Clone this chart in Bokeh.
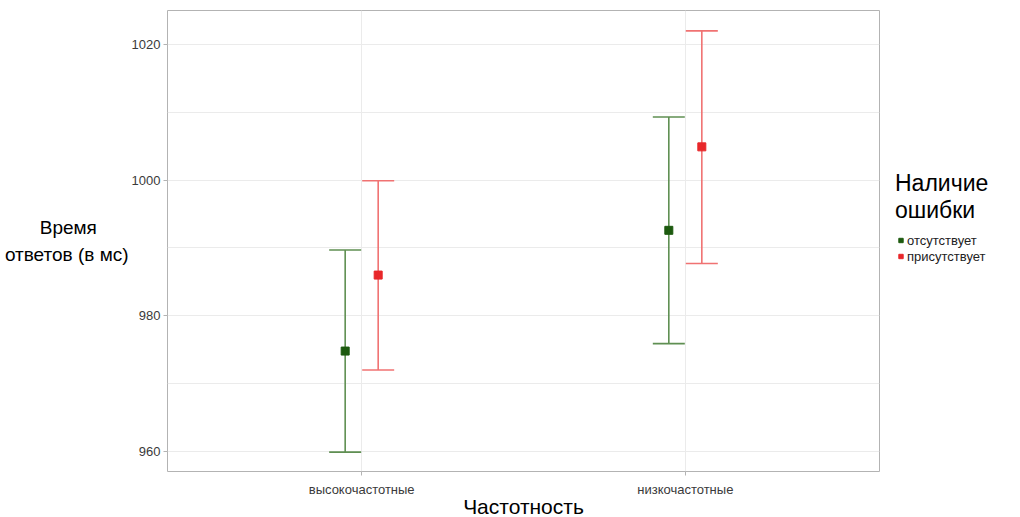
from bokeh.plotting import figure
from bokeh.models import (FactorRange, Range1d, Whisker, TeeHead, ColumnDataSource,
                          Legend, LegendItem, FixedTicker)
from bokeh.transform import dodge
from bokeh.embed import file_html
from bokeh.resources import INLINE

categories = ["высокочастотные", "низкочастотные"]
groups = ["отсутствует", "присутствует"]
mean_absent = [974.8, 992.6]
lower_absent = [959.9, 975.9]
upper_absent = [989.7, 1009.3]
mean_present = [986.0, 1004.9]
lower_present = [972.0, 987.7]
upper_present = [999.9, 1022.0]
y_ticks = [960, 980, 1000, 1020]

FONT = "Liberation Sans"

p = figure(x_range=FactorRange(*categories, range_padding=0.1, range_padding_units="absolute"),
           y_range=Range1d(957.05, 1025.0),
           frame_width=712, frame_height=461,
           min_border_left=167, min_border_top=10, min_border_right=132, min_border_bottom=10,
           output_backend="svg", toolbar_location=None)

p.outline_line_color = "#b3b3b3"
p.outline_line_width = 1

src_a = ColumnDataSource(dict(cat=categories, mean=mean_absent, lo=lower_absent, hi=upper_absent))
src_p = ColumnDataSource(dict(cat=categories, mean=mean_present, lo=lower_present, hi=upper_present))

green_bar = "#5f8f52"
green_pt = "#1d5a0f"
red_bar = "#f07272"
red_pt = "#e8272a"

off = 0.051
for src, o, bc in [(src_a, -off, green_bar), (src_p, off, red_bar)]:
    w = Whisker(source=src, base=dodge("cat", o, range=p.x_range), upper="hi", lower="lo",
                line_color=bc, line_width=1.6,
                upper_head=TeeHead(size=32, line_color=bc, line_width=1.6),
                lower_head=TeeHead(size=32, line_color=bc, line_width=1.6))
    p.add_layout(w)

r_a = p.scatter(x=dodge("cat", -off, range=p.x_range), y="mean", source=src_a,
                marker="square", size=8, color=green_pt)
r_p = p.scatter(x=dodge("cat", off, range=p.x_range), y="mean", source=src_p,
                marker="square", size=8, color=red_pt)

# axes
p.yaxis.ticker = FixedTicker(ticks=y_ticks, minor_ticks=[970, 990, 1010])
for ax in (p.xaxis, p.yaxis):
    ax.axis_line_color = None
    ax.major_tick_line_color = "#b3b3b3"
    ax.major_tick_out = 4
    ax.major_tick_in = 0
    ax.minor_tick_line_color = None
    ax.major_label_text_font = FONT
    ax.major_label_text_font_size = "13px"
    ax.major_label_text_color = "#3a3a3a"
    ax.axis_label_text_font = FONT
    ax.axis_label_text_font_style = "normal"
    ax.axis_label_text_color = "#000000"
p.yaxis.major_label_standoff = 3
p.xaxis.major_label_standoff = 6
p.xaxis.axis_label = "Частотность"
p.xaxis.axis_label_text_font_size = "21px"
p.xaxis.axis_label_standoff = -5

p.yaxis.axis_label = "Время" + "\u00a0" * 6 + "\nответов (в мс)"
p.yaxis.axis_label_orientation = "horizontal"
p.yaxis.axis_label_standoff = 0
p.yaxis.axis_label_text_font_size = "19px"
p.yaxis.axis_label_text_line_height = 1.3

p.xgrid.grid_line_color = "#ebebeb"
p.ygrid.grid_line_color = "#ebebeb"
p.ygrid.minor_grid_line_color = "#ebebeb"

legend = Legend(items=[LegendItem(label=groups[0], renderers=[r_a]),
                       LegendItem(label=groups[1], renderers=[r_p])],
                title="Наличие\nошибки", title_text_font=FONT, title_text_font_size="23px",
                title_text_font_style="normal", title_text_color="#000000",
                title_text_line_height=1.15, title_standoff=8,
                location=(16, 207), padding=0, margin=0, spacing=0,
                glyph_width=11, glyph_height=16, label_height=16, label_standoff=1,
                label_text_font=FONT, label_text_font_size="13px", label_text_color="#222222",
                background_fill_alpha=0, border_line_color=None)
p.add_layout(legend, "right")

open("out.html", "w").write(file_html(p, INLINE))
